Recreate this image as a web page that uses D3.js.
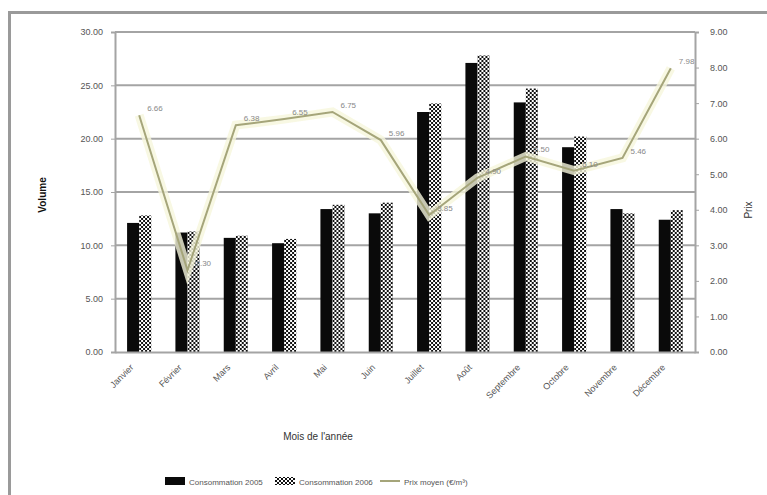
<!DOCTYPE html>
<html>
<head>
<meta charset="utf-8">
<script src="https://cdn.jsdelivr.net/npm/d3@7"></script>
<style>
  html, body { margin: 0; padding: 0; background: #fff; }
  svg { display: block; font-family: "Liberation Sans", Arial, sans-serif; }
</style>
</head>
<body>
<svg id="chart" width="767" height="495"></svg>
<script>
// Monthly volumes for two years (bars, left axis) and average price (line, right axis)
const months = ["Janvier", "Février", "Mars", "Avril", "Mai", "Juin",
                "Juillet", "Août", "Septembre", "Octobre", "Novembre", "Décembre"];
const volume2005 = [12.1, 11.2, 10.7, 10.2, 13.4, 13.0, 22.5, 27.1, 23.4, 19.2, 13.4, 12.4];
const volume2006 = [12.8, 11.3, 10.9, 10.6, 13.8, 14.0, 23.3, 27.8, 24.7, 20.2, 13.0, 13.3];
const price = [6.66, 2.30, 6.38, 6.55, 6.75, 5.96, 3.85, 4.90, 5.50, 5.10, 5.46, 7.98];
const leftTicks = [0, 5, 10, 15, 20, 25, 30];
const rightTicks = [0, 1, 2, 3, 4, 5, 6, 7, 8, 9];
const seriesNames = ["Consommation 2005", "Consommation 2006", "Prix moyen (€/m³)"];
const axisTitles = { x: "Mois de l'année", left: "Volume", right: "Prix" };

const svg = d3.select("#chart");
const plot = { left: 115, right: 695, top: 32, bottom: 352 };

// checkerboard fill for the second bar series
const defs = svg.append("defs");
const pat = defs.append("pattern").attr("id", "checker")
  .attr("width", 4).attr("height", 4).attr("patternUnits", "userSpaceOnUse");
pat.append("rect").attr("width", 4).attr("height", 4).attr("fill", "#fff");
pat.append("rect").attr("width", 2).attr("height", 2).attr("fill", "#111");
pat.append("rect").attr("x", 2).attr("y", 2).attr("width", 2).attr("height", 2).attr("fill", "#111");

// outer frame
svg.append("rect").attr("x", 9.5).attr("y", 12.5).attr("width", 800).attr("height", 520)
  .attr("fill", "none").attr("stroke", "#9a9a9a").attr("stroke-width", 3);

const x = d3.scaleBand().domain(months).range([plot.left, plot.right])
  .paddingInner(0.5).paddingOuter(0.25);
const x1 = d3.scaleBand().domain([0, 1]).range([0, x.bandwidth()]);
const yL = d3.scaleLinear().domain([0, 30]).range([plot.bottom, plot.top]);
const yR = d3.scaleLinear().domain([0, 9]).range([plot.bottom, plot.top]);

// horizontal gridlines
svg.append("g").selectAll("line").data(leftTicks.filter(d => d > 0)).join("line")
  .attr("x1", plot.left).attr("x2", plot.right)
  .attr("y1", d => yL(d)).attr("y2", d => yL(d))
  .attr("stroke", "#a4a4a4").attr("stroke-width", 2);

// bars
const groups = svg.append("g").selectAll("g").data(months).join("g")
  .attr("transform", d => `translate(${x(d)},0)`);
groups.append("rect")
  .attr("x", x1(0)).attr("width", x1.bandwidth())
  .attr("y", (d, i) => yL(volume2005[i]))
  .attr("height", (d, i) => yL(0) - yL(volume2005[i]))
  .attr("fill", "#0a0a0a");
groups.append("rect")
  .attr("x", x1(1)).attr("width", x1.bandwidth())
  .attr("y", (d, i) => yL(volume2006[i]))
  .attr("height", (d, i) => yL(0) - yL(volume2006[i]))
  .attr("fill", "url(#checker)");

// price line with a pale halo
const cx = d => x(d) + x.bandwidth() / 2;
const line = d3.line().x((d, i) => cx(months[i])).y(d => yR(d));
svg.append("path").datum(price).attr("d", line)
  .attr("fill", "none").attr("stroke", "#f6f6dc").attr("stroke-width", 9).attr("opacity", 0.8);
svg.append("path").datum(price).attr("d", line)
  .attr("fill", "none").attr("stroke", "#a5a57a").attr("stroke-width", 2);

// price value labels
svg.append("g").selectAll("text").data(price).join("text")
  .attr("x", (d, i) => cx(months[i]) + 8)
  .attr("y", d => yR(d) - 4)
  .attr("font-size", 8).attr("fill", "#888")
  .text(d => d3.format(".2f")(d));

// axes
const axL = svg.append("g").attr("transform", `translate(${plot.left},0)`)
  .call(d3.axisLeft(yL).tickValues(leftTicks).tickFormat(d3.format(".2f")).tickSize(4));
const axR = svg.append("g").attr("transform", `translate(${plot.right},0)`)
  .call(d3.axisRight(yR).tickValues(rightTicks).tickFormat(d3.format(".2f")).tickSize(4));
[axL, axR].forEach(a => {
  a.select(".domain").attr("stroke", "#a4a4a4").attr("stroke-width", 2);
  a.selectAll(".tick line").attr("stroke", "#a4a4a4");
  a.selectAll(".tick text").attr("font-size", 9).attr("fill", "#555")
    .attr("font-family", "Liberation Sans, Arial, sans-serif");
});
axL.selectAll(".tick text").attr("x", -12);
axR.selectAll(".tick text").attr("x", 15);

// bottom axis with rotated labels
const axB = svg.append("g").attr("transform", `translate(0,${plot.bottom})`)
  .call(d3.axisBottom(x).tickSize(0).tickFormat(""));
axB.select(".domain").attr("stroke", "#a4a4a4").attr("stroke-width", 2);
svg.append("g").selectAll("text").data(months).join("text")
  .attr("transform", d => `translate(${cx(d) - 5},${plot.bottom + 16}) rotate(-45)`)
  .attr("text-anchor", "end").attr("font-size", 9).attr("fill", "#555")
  .text(d => d);

// axis titles
svg.append("text").attr("x", 318).attr("y", 440).attr("text-anchor", "middle")
  .attr("font-size", 10).attr("fill", "#333").text(axisTitles.x);
svg.append("text").attr("transform", "translate(46,195) rotate(-90)")
  .attr("text-anchor", "middle").attr("font-size", 10).attr("font-weight", "bold")
  .attr("fill", "#111").text(axisTitles.left);
svg.append("text").attr("transform", "translate(752,210) rotate(-90)")
  .attr("text-anchor", "middle").attr("font-size", 10).attr("fill", "#333").text(axisTitles.right);

// legend
const lg = svg.append("g").attr("transform", "translate(165,482)");
lg.append("rect").attr("x", 0).attr("y", -5).attr("width", 20).attr("height", 8).attr("fill", "#0a0a0a");
lg.append("text").attr("x", 24).attr("y", 3).attr("font-size", 8).attr("fill", "#555").text(seriesNames[0]);
lg.append("rect").attr("x", 110).attr("y", -5).attr("width", 20).attr("height", 8).attr("fill", "url(#checker)");
lg.append("text").attr("x", 134).attr("y", 3).attr("font-size", 8).attr("fill", "#555").text(seriesNames[1]);
lg.append("line").attr("x1", 215).attr("x2", 235).attr("y1", -1).attr("y2", -1)
  .attr("stroke", "#a5a57a").attr("stroke-width", 2);
lg.append("text").attr("x", 239).attr("y", 3).attr("font-size", 8).attr("fill", "#555").text(seriesNames[2]);
</script>
</body>
</html>
